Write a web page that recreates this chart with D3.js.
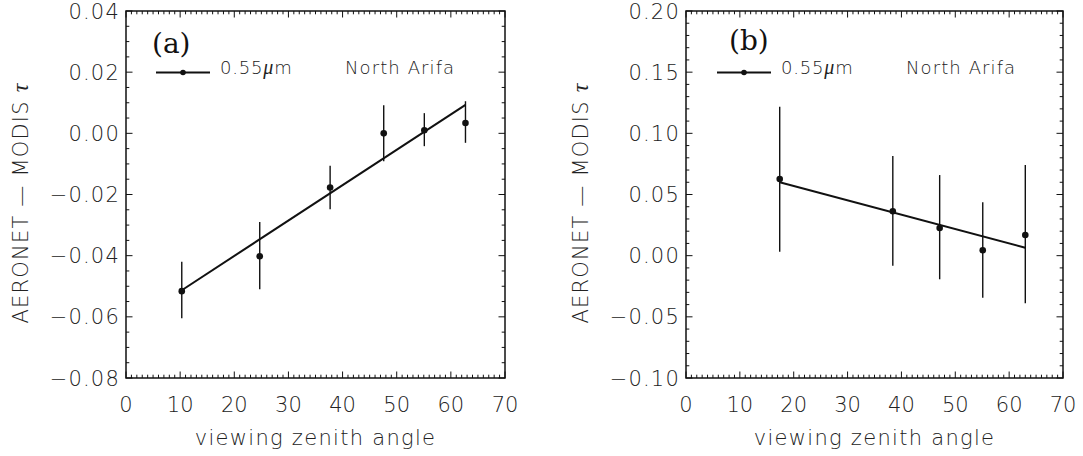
<!DOCTYPE html>
<html><head><meta charset="utf-8">
<script src="https://cdn.jsdelivr.net/npm/d3@7"></script>
<style>
body{margin:0;background:#fff;}
text{font-family:"DejaVu Sans",sans-serif;font-weight:200;fill:#222;}
.gk{font-family:"Liberation Serif",serif;font-style:italic;font-weight:400;}
</style></head>
<body><svg id="c" width="1083" height="456"></svg>
<script>
// Panel (a)
const angleA = [10.3, 24.7, 37.7, 47.6, 55.1, 62.7];
const diffA  = [-0.0516, -0.0402, -0.0177, 0.0000, 0.0010, 0.0034];
const errHiA = [-0.0420, -0.0290, -0.0106, 0.0092, 0.0066, 0.0105];
const errLoA = [-0.0605, -0.0510, -0.0248, -0.0091, -0.0042, -0.0031];
const fitA   = [[10.3, -0.0513], [62.7, 0.0093]];
const yTicksA = [-0.08, -0.06, -0.04, -0.02, 0.00, 0.02, 0.04];
const yLabelsA = ["\u22120.08","\u22120.06","\u22120.04","\u22120.02","0.00","0.02","0.04"];

// Panel (b)
const angleB = [17.4, 38.4, 47.1, 55.1, 63.0];
const diffB  = [0.0627, 0.0363, 0.0226, 0.0044, 0.0169];
const errHiB = [0.1217, 0.0815, 0.0659, 0.0436, 0.0741];
const errLoB = [0.0033, -0.0082, -0.0193, -0.0343, -0.0389];
const fitB   = [[17.4, 0.0600], [63.0, 0.0065]];
const yTicksB = [-0.10, -0.05, 0.00, 0.05, 0.10, 0.15, 0.20];
const yLabelsB = ["\u22120.10","\u22120.05","0.00","0.05","0.10","0.15","0.20"];

const xTicks = [0, 10, 20, 30, 40, 50, 60, 70];
const svg = d3.select("#c");

function panel(cfg){
  const g = svg.append("g");
  const x = d3.scaleLinear().domain([0,70]).range([cfg.left, cfg.right]);
  const y = d3.scaleLinear().domain(cfg.yDomain).range([cfg.bottom, cfg.top]);
  const xMinor = d3.range(0, 70.001, 1);
  const yMinor = d3.range(cfg.yDomain[0], cfg.yDomain[1] + cfg.yMinor/2, cfg.yMinor);
  const isMajX = v => Math.abs(v/10 - Math.round(v/10)) < 1e-6;
  const isMajY = v => Math.abs(v/cfg.yMajor - Math.round(v/cfg.yMajor)) < 1e-6;
  const tk = g.append("g").attr("stroke","#111").attr("stroke-width",1);
  xMinor.forEach(v=>{
    const L = isMajX(v)?6.5:3.3;
    tk.append("line").attr("x1",x(v)).attr("x2",x(v)).attr("y1",cfg.bottom).attr("y2",cfg.bottom-L);
    tk.append("line").attr("x1",x(v)).attr("x2",x(v)).attr("y1",cfg.top).attr("y2",cfg.top+L);
  });
  yMinor.forEach(v=>{
    const L = isMajY(v)?6.5:3.3;
    tk.append("line").attr("y1",y(v)).attr("y2",y(v)).attr("x1",cfg.left).attr("x2",cfg.left+L);
    tk.append("line").attr("y1",y(v)).attr("y2",y(v)).attr("x1",cfg.right).attr("x2",cfg.right-L);
  });
  g.append("rect").attr("x",cfg.left).attr("y",cfg.top).attr("width",cfg.right-cfg.left)
   .attr("height",cfg.bottom-cfg.top).attr("fill","none").attr("stroke","#111").attr("stroke-width",1.5);
  // tick labels
  g.selectAll(".xl").data(xTicks).join("text").attr("x",d=>x(d)).attr("y",cfg.bottom+34)
   .attr("text-anchor","middle").attr("font-size",21).text(d=>d);
  g.selectAll(".yl").data(cfg.yTicks).join("text").attr("x",cfg.left-6).attr("y",(d)=>y(d)+7.5)
   .attr("text-anchor","end").attr("font-size",21).attr("letter-spacing",1.2)
   .text((d,i)=>cfg.yLabels[i]);
  // axis titles
  g.append("text").attr("x",(cfg.left+cfg.right)/2).attr("y",445).attr("text-anchor","middle")
   .attr("font-size",21).attr("letter-spacing",1.3).text("viewing zenith angle");
  const yt = g.append("text").attr("transform",`translate(${cfg.left-98},203) rotate(-90)`)
   .attr("text-anchor","middle").attr("font-size",21).attr("letter-spacing",1.2)
   .style("white-space","pre");
  yt.append("tspan").text("AERONET \u2014 MODIS ");
  yt.append("tspan").attr("class","gk").attr("font-size",24).text("\u03c4");
  // error bars
  g.selectAll(".eb").data(cfg.xs).join("line").attr("x1",d=>x(d)).attr("x2",d=>x(d))
   .attr("y1",(d,i)=>y(cfg.hi[i])).attr("y2",(d,i)=>y(cfg.lo[i]))
   .attr("stroke","#111").attr("stroke-width",1.4);
  // fit
  g.append("path").attr("d",d3.line().x(d=>x(d[0])).y(d=>y(d[1]))(cfg.fit))
   .attr("stroke","#111").attr("stroke-width",2).attr("fill","none");
  // points
  g.selectAll(".pt").data(cfg.xs).join("circle").attr("cx",d=>x(d)).attr("cy",(d,i)=>y(cfg.ys[i]))
   .attr("r",3.3).attr("fill","#111");
  // legend
  const lx = cfg.legX, ly = 72.5;
  g.append("line").attr("x1",lx).attr("x2",lx+54).attr("y1",ly).attr("y2",ly).attr("stroke","#111").attr("stroke-width",2);
  g.append("circle").attr("cx",lx+27).attr("cy",ly).attr("r",2.8).attr("fill","#111");
  const t = g.append("text").attr("x",lx+64).attr("y",ly+1).attr("font-size",18).attr("letter-spacing",0.8);
  t.append("tspan").text("0.55");
  t.append("tspan").attr("class","gk").attr("font-size",20).text("\u03bc");
  t.append("tspan").text("m");
  g.append("text").attr("x",lx+189).attr("y",ly+1).attr("font-size",18).attr("letter-spacing",1.1).text("North Arifa");
  g.append("text").attr("x",cfg.labX).attr("y",cfg.labY).attr("font-size",28)
   .style("font-family","'DejaVu Serif', serif").style("font-weight","400").style("fill","#111")
   .text(cfg.label);
}

panel({left:126, right:505, top:11, bottom:378, yDomain:[-0.08,0.04], yMajor:0.02, yMinor:0.005,
  yTicks:yTicksA, yLabels:yLabelsA, xs:angleA, ys:diffA, hi:errHiA, lo:errLoA, fit:fitA,
  legX:156, labX:152, labY:53, label:"(a)"});
panel({left:686, right:1063, top:11, bottom:378, yDomain:[-0.10,0.20], yMajor:0.05, yMinor:0.01,
  yTicks:yTicksB, yLabels:yLabelsB, xs:angleB, ys:diffB, hi:errHiB, lo:errLoB, fit:fitB,
  legX:717, labX:729, labY:50, label:"(b)"});
</script></body></html>
